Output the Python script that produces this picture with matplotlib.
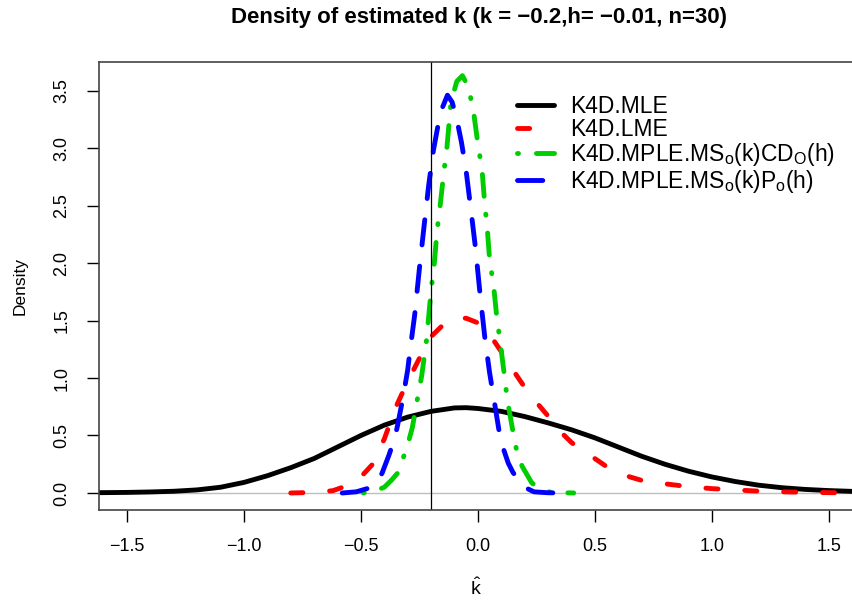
import matplotlib.pyplot as plt
import numpy as np

plt.rcParams['font.family'] = ['Liberation Sans', 'DejaVu Sans']
plt.rcParams['mathtext.fontset'] = 'custom'
plt.rcParams['mathtext.rm'] = 'Liberation Sans'
plt.rcParams['mathtext.it'] = 'Liberation Sans:italic'

# density curves (x = k-hat, y = density)
mle_x = [-1.7, -1.6, -1.5, -1.4, -1.3, -1.2, -1.1, -1.0, -0.9, -0.8, -0.7, -0.6,
         -0.5, -0.4, -0.3, -0.2, -0.1, -0.05, 0.0, 0.1, 0.2, 0.3, 0.4, 0.5, 0.6,
         0.7, 0.8, 0.9, 1.0, 1.1, 1.2, 1.3, 1.4, 1.5, 1.6, 1.7]
mle_y = [0.002, 0.003, 0.005, 0.009, 0.015, 0.027, 0.05, 0.092, 0.15, 0.22, 0.30, 0.40,
         0.50, 0.59, 0.66, 0.71, 0.74, 0.742, 0.735, 0.71, 0.665, 0.61, 0.55, 0.48, 0.40,
         0.32, 0.25, 0.19, 0.14, 0.10, 0.068, 0.046, 0.031, 0.021, 0.014, 0.01]

lme_x = [-0.80, -0.70, -0.62, -0.55, -0.50, -0.45, -0.40, -0.35, -0.30, -0.25, -0.20,
         -0.15, -0.10, -0.05, 0.00, 0.05, 0.10, 0.15, 0.20, 0.25, 0.30, 0.35, 0.40,
         0.45, 0.50, 0.55, 0.60, 0.65, 0.70, 0.80, 0.90, 1.00, 1.10, 1.20, 1.30, 1.40,
         1.50, 1.60]
lme_y = [0.0, 0.005, 0.02, 0.07, 0.14, 0.25, 0.47, 0.75, 0.97, 1.17, 1.36,
         1.46, 1.52, 1.52, 1.48, 1.38, 1.23, 1.07, 0.92, 0.79, 0.67, 0.54, 0.44,
         0.36, 0.30, 0.23, 0.18, 0.14, 0.11, 0.08, 0.055, 0.038, 0.027, 0.016, 0.01, 0.006,
         0.003, 0.001]

cd_x = [-0.49, -0.45, -0.40, -0.37, -0.34, -0.32, -0.30, -0.28, -0.26, -0.24, -0.22,
        -0.20, -0.186, -0.175, -0.16, -0.146, -0.132, -0.115, -0.09, -0.066, -0.04,
        -0.018, 0.0, 0.018, 0.03, 0.04, 0.05, 0.068, 0.08, 0.095, 0.105, 0.115, 0.126,
        0.14, 0.155, 0.17, 0.19, 0.21, 0.23, 0.26, 0.30, 0.35, 0.41]
cd_y = [0.0, 0.01, 0.05, 0.11, 0.18, 0.30, 0.42, 0.57, 0.80, 1.02, 1.32,
        1.76, 2.0, 2.27, 2.52, 2.78, 3.01, 3.40, 3.58, 3.63, 3.53,
        3.31, 3.04, 2.81, 2.5, 2.31, 2.04, 1.79, 1.55, 1.32, 1.16, 1.0, 0.81,
        0.65, 0.48, 0.33, 0.23, 0.16, 0.09, 0.04, 0.01, 0.003, 0.0]

po_x = [-0.58, -0.52, -0.47, -0.44, -0.41, -0.38, -0.36, -0.345, -0.32, -0.30, -0.29,
        -0.27, -0.25, -0.23, -0.21, -0.19, -0.16, -0.13, -0.11, -0.09, -0.07, -0.05,
        -0.03, -0.01, 0.01, 0.03, 0.05, 0.07, 0.09, 0.11, 0.13, 0.15, 0.18, 0.21, 0.24,
        0.30, 0.37]
po_y = [0.0, 0.01, 0.04, 0.08, 0.17, 0.33, 0.45, 0.57, 0.83, 1.07, 1.24,
        1.55, 1.95, 2.32, 2.68, 2.98, 3.31, 3.46, 3.40, 3.25, 3.05, 2.80,
        2.47, 2.13, 1.72, 1.35, 1.05, 0.80, 0.55, 0.38, 0.26, 0.18, 0.09, 0.04, 0.01,
        0.002, 0.0]

labels = ['K4D.MLE', 'K4D.LME',
          r'K4D.MPLE.MS$_\mathrm{o}$(k)CD$_\mathrm{O}$(h)',
          r'K4D.MPLE.MS$_\mathrm{o}$(k)P$_\mathrm{o}$(h)']
true_k = -0.2

fig = plt.figure(figsize=(8.52, 6.04), dpi=100)
ax = fig.add_axes([99 / 852, 1 - 510 / 604, 1 - 99 / 852, (510 - 61.5) / 604])

lw = 3.5
ax.plot(mle_x, mle_y, color='black', lw=lw, label=labels[0], solid_capstyle='round')
ax.plot(lme_x, lme_y, color='#ff0000', lw=lw, label=labels[1],
        dashes=(2.5, 5.5), dash_capstyle='round')
ax.plot(cd_x, cd_y, color='#00cd00', lw=lw, label=labels[2],
        dashes=(0.2, 3.7, 4.5, 3.7), dash_capstyle='round')
ax.plot(po_x, po_y, color='#0000ff', lw=lw, label=labels[3],
        dashes=(5.2, 4.4), dash_capstyle='round')

ax.axhline(0, color='#bebebe', lw=1, zorder=1)
ax.axvline(true_k, color='black', lw=0.9)

fmt = plt.FuncFormatter(lambda v, p: ('%.1f' % v).replace('-', '\u2212'))
ax.set_xlim(-1.62, 1.60)
ax.set_ylim(-0.148, 3.753)
ax.set_xticks([-1.5, -1.0, -0.5, 0.0, 0.5, 1.0, 1.5])
ax.set_yticks([0.0, 0.5, 1.0, 1.5, 2.0, 2.5, 3.0, 3.5])
ax.xaxis.set_major_formatter(fmt)
ax.yaxis.set_major_formatter(fmt)
ax.tick_params(length=8.5, width=1, labelsize=13, pad=12)
ax.tick_params(axis='y', labelrotation=90)
for t in ax.get_yticklabels():
    t.set_va('center')

for s in ['left', 'bottom', 'top']:
    ax.spines[s].set_color('#444444')
    ax.spines[s].set_linewidth(1.2)
ax.spines['right'].set_visible(False)

ax.set_xlabel(r'$\hat{\mathrm{k}}$', fontsize=14)
ax.xaxis.set_label_coords(0.5, -0.15)
ax.set_ylabel('Density', fontsize=12.5)
ax.yaxis.set_label_coords(-0.095, 0.5)

fig.suptitle('Density of estimated k (k = \u22120.2,h= \u22120.01, n=30)',
             fontsize=16, fontweight='bold', x=0.562, y=0.988)

ax.legend(loc='upper left', bbox_to_anchor=(517 / 852, 1 - 95 / 604),
          bbox_transform=fig.transFigure, frameon=False, fontsize=16.5,
          handlelength=1.6, handletextpad=0.72, labelspacing=0.0,
          borderaxespad=0, borderpad=0)

fig.savefig('out.png', dpi=100)
